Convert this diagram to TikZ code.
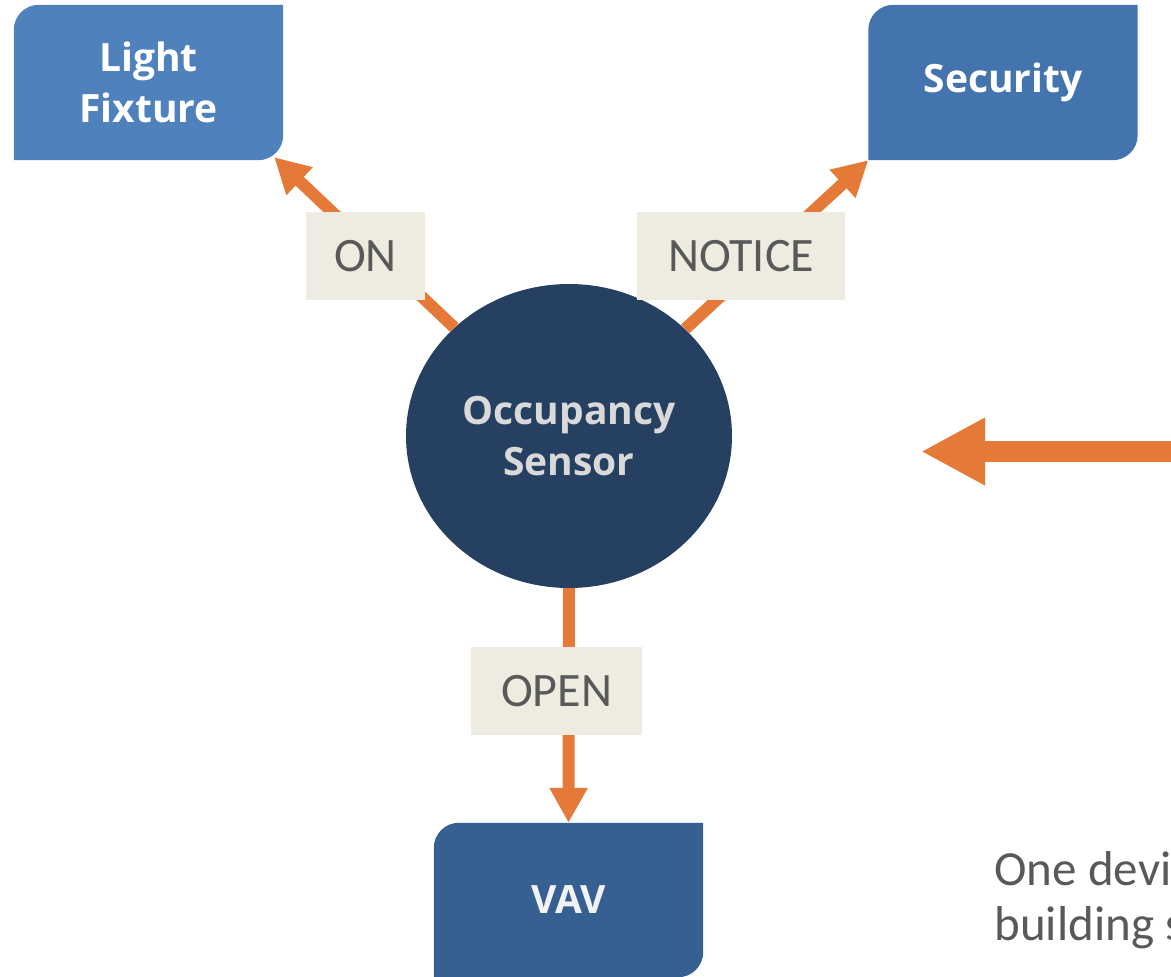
\documentclass[tikz,border=0pt]{standalone}
\usepackage{fontspec}
\setmainfont{Carlito}
\newfontfamily\devfont{Open Sans}
\usetikzlibrary{arrows.meta,backgrounds,shapes.geometric,calc}

\definecolor{fixblue}{HTML}{4F81BD}
\definecolor{secblue}{HTML}{4374AE}
\definecolor{vavblue}{HTML}{366092}
\definecolor{sensblue}{HTML}{264061}
\definecolor{flow}{HTML}{E57A38}
\definecolor{tagbg}{HTML}{EEECE1}
\definecolor{tagtext}{HTML}{595959}

\tikzset{
	device/.style={minimum width=269pt, minimum height=155pt, inner sep=0pt, align=center, text=white, font=\devfont\bfseries\fontsize{39}{51}\selectfont},
	tag/.style={fill=tagbg, text=tagtext, minimum height=88pt, inner sep=0pt, font=\fontsize{48}{58}\selectfont},
	signal/.style={draw=flow, line width=12pt, -{Triangle[length=35pt,width=36pt]}},
}

% box with two rounded corners (top left, bottom right)
\newcommand{\tabfill}[2]{%
	\fill[#2] (#1.north east) [rounded corners=25pt] -- (#1.south east) [sharp corners] -- (#1.south west) [rounded corners=25pt] -- (#1.north west) [sharp corners] -- (#1.north east);}

\begin{document}
\begin{tikzpicture}[x=1pt, y=-1pt]
	
	\useasboundingbox (0,0) rectangle (1171,977);
	\clip (0,0) rectangle (1171,977);
	
	\node[device] (fixture) at (148.5,82.5) {Light\\Fixture};
	\node[device] (security) at (1003,82.5) {Security};
	\node[device, minimum height=154pt, text=white!95!black] (vav) at (568.5,900) {VAV};
	
	\begin{scope}[on background layer]
		\tabfill{fixture}{fixblue}
		\tabfill{security}{secblue}
		\tabfill{vav}{vavblue}
	\end{scope}
	
	\node[ellipse, fill=sensblue, minimum width=326pt, minimum height=304pt, inner sep=0pt, align=center, text=white!85!black, font=\devfont\bfseries\fontsize{39}{51}\selectfont] (sensor) at (569,436) {Occupancy\\Sensor};
	
	\draw[signal] (sensor) -- ($(fixture.south east)+(-9,-3)$);
	\draw[signal] (sensor) -- (security.south west);
	\draw[signal] (sensor.south) -- (vav.north);
	
	\node[tag, minimum width=119pt] (on) at (365.5,256) {ON};
	\node[tag, minimum width=208pt] (notice) at (741,256) {NOTICE};
	\node[tag, minimum width=171pt] (open) at (556.5,691) {OPEN};
	
	% incoming arrow from the right
	\coordinate (edge) at (1180,451.5);
	\coordinate (point) at (921,451.5);
	\draw[draw=flow, line width=21pt, -{Triangle[length=64pt,width=63pt]}] (edge) -- (point);
	
	\node[anchor=base west, align=left, text=tagtext, font=\fontsize{49}{55}\selectfont] (note) at (991,940) {One devi\\building s};
	
\end{tikzpicture}
\end{document}
